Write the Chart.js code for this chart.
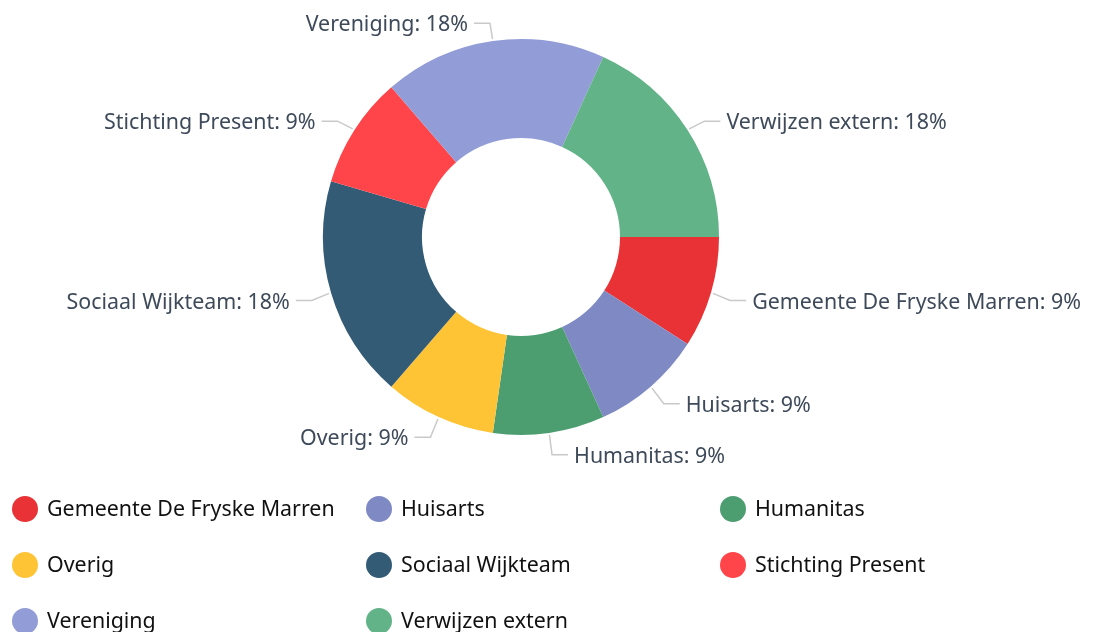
<!DOCTYPE html>
<html>
<head>
<meta charset="utf-8">
<script src="https://cdn.jsdelivr.net/npm/chart.js@4/dist/chart.umd.min.js"></script>
<style>
  html, body { margin: 0; padding: 0; background: #fff; overflow: hidden; }
  #wrap { width: 1093px; height: 632px; }
</style>
</head>
<body>
<div id="wrap"><canvas id="donutChart" width="1093" height="632"></canvas></div>
<script>
const categories = ['Gemeente De Fryske Marren', 'Huisarts', 'Humanitas', 'Overig', 'Sociaal Wijkteam', 'Stichting Present', 'Vereniging', 'Verwijzen extern'];
const counts = [1, 1, 1, 1, 2, 1, 2, 2];
const sliceColors = ['#e83235', '#7f8ac4', '#4c9e70', '#ffc436', '#335b75', '#ff4549', '#929dd7', '#62b387'];

const fontFamily = '"Noto Sans", "Open Sans", sans-serif';

// outside labels with tick lines
const sliceLabels = {
  id: 'sliceLabels',
  afterDatasetsDraw(chart) {
    const ctx = chart.ctx;
    const values = chart.data.datasets[0].data;
    const total = values.reduce((a, b) => a + b, 0);
    chart.getDatasetMeta(0).data.forEach((arc, i) => {
      const mid = (arc.startAngle + arc.endAngle) / 2;
      const cos = Math.cos(mid), sin = Math.sin(mid);
      const r = arc.outerRadius;
      const x0 = arc.x + cos * (r + 2), y0 = arc.y + sin * (r + 2);
      const x1 = arc.x + cos * (r + 20), y1 = arc.y + sin * (r + 20) + 2;
      const dir = cos >= 0 ? 1 : -1;
      const x2 = x1 + dir * 16;
      ctx.save();
      ctx.strokeStyle = '#c9c9c9';
      ctx.lineWidth = 1.5;
      ctx.beginPath();
      ctx.moveTo(x0, y0);
      ctx.lineTo(x1, y1);
      ctx.lineTo(x2, y1);
      ctx.stroke();
      ctx.fillStyle = '#3e4a5a';
      ctx.font = '21.4px ' + fontFamily;
      ctx.textBaseline = 'middle';
      ctx.textAlign = dir > 0 ? 'left' : 'right';
      const pct = Math.round(values[i] / total * 100);
      ctx.fillText(chart.data.labels[i] + ': ' + pct + '%', x2 + dir * 6, y1 + 2);
      ctx.restore();
    });
  }
};

// grid legend below the chart
const gridLegend = {
  id: 'gridLegend',
  afterDraw(chart) {
    const ctx = chart.ctx;
    const ds = chart.data.datasets[0];
    ctx.save();
    chart.data.labels.forEach((label, i) => {
      const col = i % 3, row = Math.floor(i / 3);
      const cx = 25 + col * 354, cy = 509 + row * 56;
      ctx.fillStyle = ds.backgroundColor[i];
      ctx.beginPath();
      ctx.arc(cx, cy, 13, 0, Math.PI * 2);
      ctx.fill();
      ctx.fillStyle = '#111';
      ctx.font = '21.4px ' + fontFamily;
      ctx.textBaseline = 'middle';
      ctx.textAlign = 'left';
      ctx.fillText(label, cx + 22, cy + 1);
    });
    ctx.restore();
  }
};

new Chart(document.getElementById('donutChart'), {
  type: 'doughnut',
  data: {
    labels: categories,
    datasets: [{
      data: counts,
      backgroundColor: sliceColors,
      borderWidth: 0
    }]
  },
  options: {
    responsive: false,
    animation: false,
    events: [],
    rotation: 90,
    cutout: '50%',
    layout: { padding: { top: 39, bottom: 197, left: 0, right: 51 } },
    plugins: {
      legend: { display: false },
      tooltip: { enabled: false }
    }
  },
  plugins: [sliceLabels, gridLegend]
});
</script>
</body>
</html>
